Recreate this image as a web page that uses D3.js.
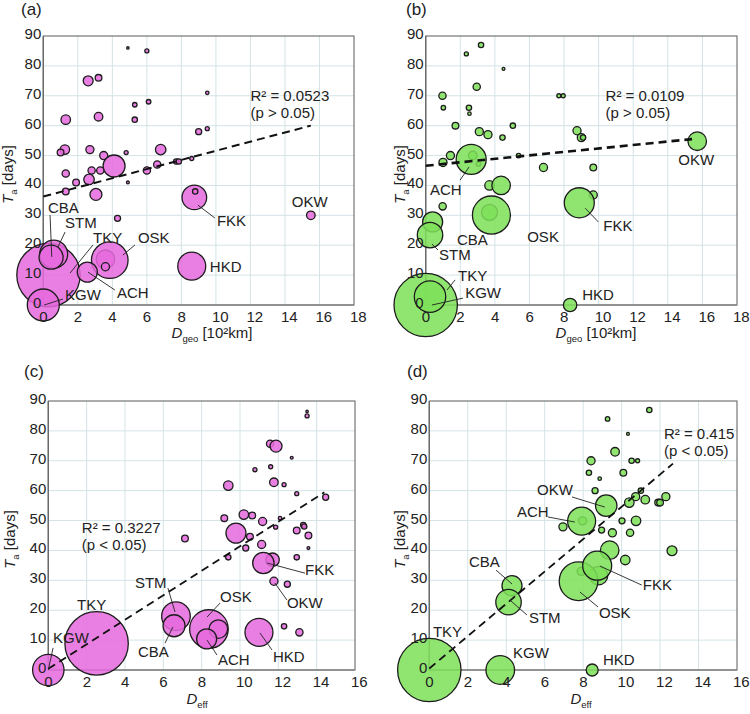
<!DOCTYPE html>
<html><head><meta charset="utf-8">
<script src="https://cdn.jsdelivr.net/npm/d3@7"></script>
<style>
body{margin:0;background:#fff}
text{font-family:"Liberation Sans",Arial,sans-serif;fill:#222}
</style>
</head><body>
<svg id="chart" width="750" height="714"></svg>
<script>
// ---------------- DATA ----------------
const yTicks = [0,10,20,30,40,50,60,70,80,90];
const xTicksGeo = [0,2,4,6,8,10,12,14,16,18];
const xTicksEff = [0,2,4,6,8,10,12,14,16];

// Panel (a): D_geo vs T_a (pink)
const aX    = [4.9,6.0,2.6,3.2,5.3,6.1,9.5,1.3,3.2,5.3,9.0,9.5,1.25,1.0,2.7,3.5,4.8,6.8,4.1,1.3,2.8,3.3,2.65,1.9,4.9,1.3,3.05,6.0,6.6,7.7,7.85,8.6,4.3,3.6, 0.3,0.6,0.45,3.85,2.55,0.0,8.75,8.8,15.5,8.6,3.6];
const aY    = [86,85,75,76,67,68,71,62,63,62,58,59,52,51,52,50,51,52,46.5,44,45,45,42,41,41,38,37,45,47,48,48,49,29,15.3, 10,17,16,15,11,0,36,38,30,13,12.8];
const aSize = [1,4,24,11,5,5,3,22,18,7,9,4,22,11,16,16,4,27,118,13,13,13,27,11,2,11,35,13,13,7,7,4,9,84, 981,191,141,327,98,250,148,7,18,191,16];
const aNames   = ["CBA","STM","TKY","OSK","ACH","KGW","FKK","OKW","HKD"];
const aLabelX  = [0.27,1.26,2.88,5.48,4.27,1.26,10.06,14.4,9.65];
const aLabelY  = [30.8,25.75,20.7,20.7,2.3,1.7,26.4,32.8,11.0];
const aLeaders = [[0.39,30.1,0.49,16.1],[1.26,24.4,0.85,19.4],[2.88,20.1,1.55,10.7],[5.31,20.1,4.61,16.7],[4.15,5.0,2.59,11.0],[1.14,2.0,0.05,0],[9.94,29.1,8.96,33.4],null,null];
const aFit = [36.3, 1.53, 0, 15.5];   // intercept, slope, x from, x to
const aStats = ["R² = 0.0523","(p > 0.05)"];
const aStatsPos = [12.0, 68.3];

// Panel (b): D_geo vs T_a (green)
const bX    = [3.2,2.35,4.5,2.95,0.97,1.02,2.5,2.53,7.7,7.95,1.72,5.04,3.1,3.6,4.44,8.75,9.0,9.1,1.43,1.0,5.37,2.72,3.05,6.81,9.69,3.69,4.36,0.98,3.69,9.69, 0.4,0.25,2.63,3.8,8.88,15.7,0.0,0.25,8.35];
const bY    = [87,84,79,73,70,66,66,64,70,70,60,60,58,57,56,58.3,56,56,50,47.7,50,50,47.2,46,46,40,40,33,31,36.8, 27.8,23.4,48.7,30.1,34.2,54.8,0,2.8,0];
const bSize = [7,4,2,13,13,5,7,3,4,4,11,7,16,16,7,16,16,7,16,16,5,18,5,16,11,22,84,13,62,16, 98,158,220,353,220,84,981,241,44];
const bNames   = ["ACH","CBA","STM","OSK","FKK","OKW","TKY","KGW","HKD"];
const bLabelX  = [0.25,1.81,0.77,5.87,10.27,14.61,1.87,2.28,9.05];
const bLabelY  = [36.8,20.1,15.1,21.1,24.7,46.8,8.0,2.3,1.7];
const bLeaders = [[1.99,41.8,2.51,46.2],null,[0.71,18.4,0.36,20.4],null,[9.98,27.8,9.22,32.4],null,[1.7,8.4,1.23,5.0],[2.16,2.3,0.36,0],null];
const bFit = [46.6, 0.578, 0, 15.4];
const bStats = ["R² = 0.0109","(p > 0.05)"];
const bStatsPos = [10.4, 68.3];

// Panel (c): D_eff vs T_a (pink)
const cX    = [13.5,13.5,11.57,11.88,12.7,10.78,11.6,11.77,12.3,9.39,12.96,14.47,9.18,10.2,10.64,11.18,12.09,11.86,12.96,13.3,13.35,13.57,13.57,9.79,10.52,10.3,11.13,7.13,9.39,12.96,11.7,12.47,12.3,13.1, 11.22,11.77,6.66,6.56,8.38,8.87,8.26,10.99,2.52,0.0];
const cY    = [85,86.5,75.7,74.9,71,67,68,62.8,62,61.7,59,57.8,50.8,52,51.7,49.7,50.8,47.8,46.7,48.5,48,45,40.8,45.8,44.6,40.8,42,44,37.7,37.7,36.9,28.7,14.6,12.6, 35.8,29.7,18,14.8,13.7,13.7,10.4,12.6,8.9,0];
const cSize = [4,1,13,35,2,4,4,18,4,22,4,9,11,22,11,16,3,4,11,7,7,11,2,98,11,9,16,11,7,7,44,9,7,13, 112,16,200,118,364,84,98,191,981,241];
const cNames   = ["TKY","KGW","STM","CBA","OSK","ACH","HKD","FKK","OKW"];
const cLabelX  = [1.5,0.25,4.52,4.68,8.96,8.85,11.72,13.39,12.45];
const cLabelY  = [20.1,9.0,27.4,4.35,22.7,1.7,2.7,31.8,20.7];
const cLeaders = [null,[0.25,7.4,0.0,0.0],[6.24,27.4,6.61,19.4],[6.09,9.0,6.5,14.4],[8.96,22.4,8.28,17.7],[8.8,5.0,8.28,10.0],[11.67,6.7,11.04,12.4],[13.39,32.4,11.41,35.8],[12.45,23.4,11.82,29.1]];
const cFit = [0.4, 4.1, 0, 14.4];
const cStats = ["R² = 0.3227","(p < 0.05)"];
const cStatsPos = [1.75, 46.0];

// Panel (d): D_eff vs T_a (green)
const dX    = [11.44,9.27,10.33,9.66,8.41,10.52,10.83,8.3,10.09,8.86,8.62,11.0,12.3,10.73,11.23,10.4,11.9,12.0,7.97,6.95,8.96,10.02,10.75,9.52,10.44,12.62,9.38,10.19,8.8,7.9, 7.76,8.73,9.2,7.92,4.3,4.12,0.0,3.69,8.47];
const dY    = [87,84,79,73,70,70,70,66,66,64,60,60,58,58,57,56,56,56,49.9,47.9,46.8,49.9,49.9,45.9,45.9,39.9,40.1,36.8,31.6,33, 29.7,34.9,55,49.8,28.2,22.7,0,0,0];
const dSize = [7,5,2,18,16,7,4,7,11,3,9,7,16,16,18,22,11,11,16,16,9,9,22,16,13,24,84,22,84,16, 364,205,112,191,98,158,981,200,35];
const dNames   = ["OKW","ACH","CBA","STM","FKK","OSK","TKY","KGW","HKD"];
const dLabelX  = [5.6,4.56,2.06,5.18,11.1,8.82,0.19,4.35,9.03];
const dLabelY  = [58.5,51.2,34.4,15.7,26.8,17.4,11.0,4.0,1.7];
const dLeaders = [[7.42,57.9,9.13,54.5],[6.17,51.2,7.57,49.5],[3.47,33.4,4.3,28.8],[5.08,18.4,4.19,23.4],[11.05,28.4,8.87,34.8],[8.77,21.1,7.83,26.1],null,null,null];
const dFit = [0.5, 5.41, 0, 12.67];
const dStats = ["R² = 0.415","(p < 0.05)"];
const dStatsPos = [12.2, 77.4];

// ---------------- DRAWING ----------------
const svg = d3.select("#chart");
const PINK = "#e76ade", GREEN = "#7ee158";
const sizeScale = d3.scaleSqrt().domain([0,1000]).range([0,32]);
const FS = 15;

function drawPanel(p){
  const x = d3.scaleLinear().domain([0,p.xMax]).range([p.L,p.R]);
  const y = d3.scaleLinear().domain([0,90]).range([p.B,p.T]);
  const g = svg.append("g");

  // grid
  g.selectAll(".gx").data(p.xTicks.slice(1,-1)).join("line")
    .attr("x1",d=>x(d)).attr("x2",d=>x(d)).attr("y1",p.T).attr("y2",p.B)
    .attr("stroke","#d4e3e6").attr("stroke-width",1);
  g.selectAll(".gy").data(yTicks.slice(1,-1)).join("line")
    .attr("x1",p.L).attr("x2",p.R).attr("y1",d=>y(d)).attr("y2",d=>y(d))
    .attr("stroke","#d4e3e6").attr("stroke-width",1);
  g.append("rect").attr("x",p.L).attr("y",p.T).attr("width",p.R-p.L).attr("height",p.B-p.T)
    .attr("fill","none").attr("stroke","#5a5a5a").attr("stroke-width",1);
  g.append("line").attr("x1",p.L).attr("x2",p.R).attr("y1",p.B).attr("y2",p.B)
    .attr("stroke","#8a8a8a").attr("stroke-width",1.6);
  g.append("line").attr("x1",p.L).attr("x2",p.L).attr("y1",p.T).attr("y2",p.B)
    .attr("stroke","#6a6a6a").attr("stroke-width",1.4);

  // bubbles
  const pts = p.xs.map((v,i)=>({x:v,y:p.ys[i],s:p.ss[i]}));
  g.selectAll(".pt").data(pts).join("circle")
    .attr("cx",d=>x(d.x)).attr("cy",d=>y(d.y)).attr("r",d=>Math.max(1.2,sizeScale(d.s)))
    .attr("fill",p.color).attr("fill-opacity",0.86)
    .attr("stroke","#1c1c1c").attr("stroke-width",1.3);

  // fit line
  const f = p.fit;
  g.append("line")
    .attr("x1",x(f[2])).attr("y1",y(f[0]+f[1]*f[2]))
    .attr("x2",x(f[3])).attr("y2",y(f[0]+f[1]*f[3]))
    .attr("stroke","#111").attr("stroke-width",p.fitW).attr("stroke-dasharray","8,5");

  // ticks
  g.selectAll(".tx").data(p.xTicks).join("text")
    .attr("x",d=>x(d)-4).attr("y",p.B+17).attr("font-size",FS).text(d=>d);
  g.selectAll(".ty").data(yTicks).join("text")
    .attr("x",p.L-2).attr("y",d=>y(d)+3).attr("text-anchor","end").attr("font-size",FS).text(d=>d);

  // stats
  const st = g.append("text").attr("font-size",FS);
  st.append("tspan").attr("x",x(p.statsPos[0])).attr("y",y(p.statsPos[1])).text(p.stats[0]);
  st.append("tspan").attr("x",x(p.statsPos[0])).attr("dy",17.5).text(p.stats[1]);

  // leaders + labels
  p.leaders.forEach(l=>{
    if(!l) return;
    g.append("line").attr("x1",x(l[0])).attr("y1",y(l[1])).attr("x2",x(l[2])).attr("y2",y(l[3]))
      .attr("stroke","#222").attr("stroke-width",0.9);
  });
  p.names.forEach((n,i)=>{
    g.append("text").attr("x",x(p.lx[i])).attr("y",y(p.ly[i])).attr("font-size",FS).text(n);
  });

  // axis titles
  const yt = g.append("text").attr("font-size",FS).attr("text-anchor","middle")
    .attr("transform",`translate(${p.L-p.yTitleOff},${(p.T+p.B)/2+4}) rotate(-90)`);
  yt.append("tspan").attr("font-style","italic").text("T");
  yt.append("tspan").attr("font-size",9.5).attr("dy",4).text("a");
  yt.append("tspan").attr("dy",-4).text(" [days]");

  const xt = g.append("text").attr("font-size",FS).attr("text-anchor","middle")
    .attr("x",p.xTitleX).attr("y",p.xTitleY);
  xt.append("tspan").attr("font-style","italic").text("D");
  xt.append("tspan").attr("font-size",9.5).attr("dy",4).text(p.xSub);
  xt.append("tspan").attr("dy",-4).text(p.xRest);

  svg.append("text").attr("x",p.tagX).attr("y",p.tagY).attr("font-size",17).text(p.tag);
}

drawPanel({L:43.3,R:354,T:36,B:305,xMax:18,xTicks:xTicksGeo,xs:aX,ys:aY,ss:aSize,color:PINK,
  names:aNames,lx:aLabelX,ly:aLabelY,leaders:aLeaders,fit:aFit,fitW:2,stats:aStats,statsPos:aStatsPos,
  yTitleOff:30,xTitleX:212,xTitleY:338,xSub:"geo",xRest:" [10²km]",tag:"(a)",tagX:21,tagY:15});
drawPanel({L:425.7,R:737,T:36,B:305,xMax:18,xTicks:xTicksGeo,xs:bX,ys:bY,ss:bSize,color:GREEN,
  names:bNames,lx:bLabelX,ly:bLabelY,leaders:bLeaders,fit:bFit,fitW:2.6,stats:bStats,statsPos:bStatsPos,
  yTitleOff:21,xTitleX:596,xTitleY:338,xSub:"geo",xRest:" [10²km]",tag:"(b)",tagX:406,tagY:15});
drawPanel({L:48.3,R:355,T:401,B:670,xMax:16,xTicks:xTicksEff,xs:cX,ys:cY,ss:cSize,color:PINK,
  names:cNames,lx:cLabelX,ly:cLabelY,leaders:cLeaders,fit:cFit,fitW:1.8,stats:cStats,statsPos:cStatsPos,
  yTitleOff:33,xTitleX:197,xTitleY:704,xSub:"eff",xRest:"",tag:"(c)",tagX:24,tagY:377});
drawPanel({L:429.3,R:737,T:401,B:670,xMax:16,xTicks:xTicksEff,xs:dX,ys:dY,ss:dSize,color:GREEN,
  names:dNames,lx:dLabelX,ly:dLabelY,leaders:dLeaders,fit:dFit,fitW:1.8,stats:dStats,statsPos:dStatsPos,
  yTitleOff:24,xTitleX:581,xTitleY:704,xSub:"eff",xRest:"",tag:"(d)",tagX:407,tagY:377});
</script>
</body></html>
